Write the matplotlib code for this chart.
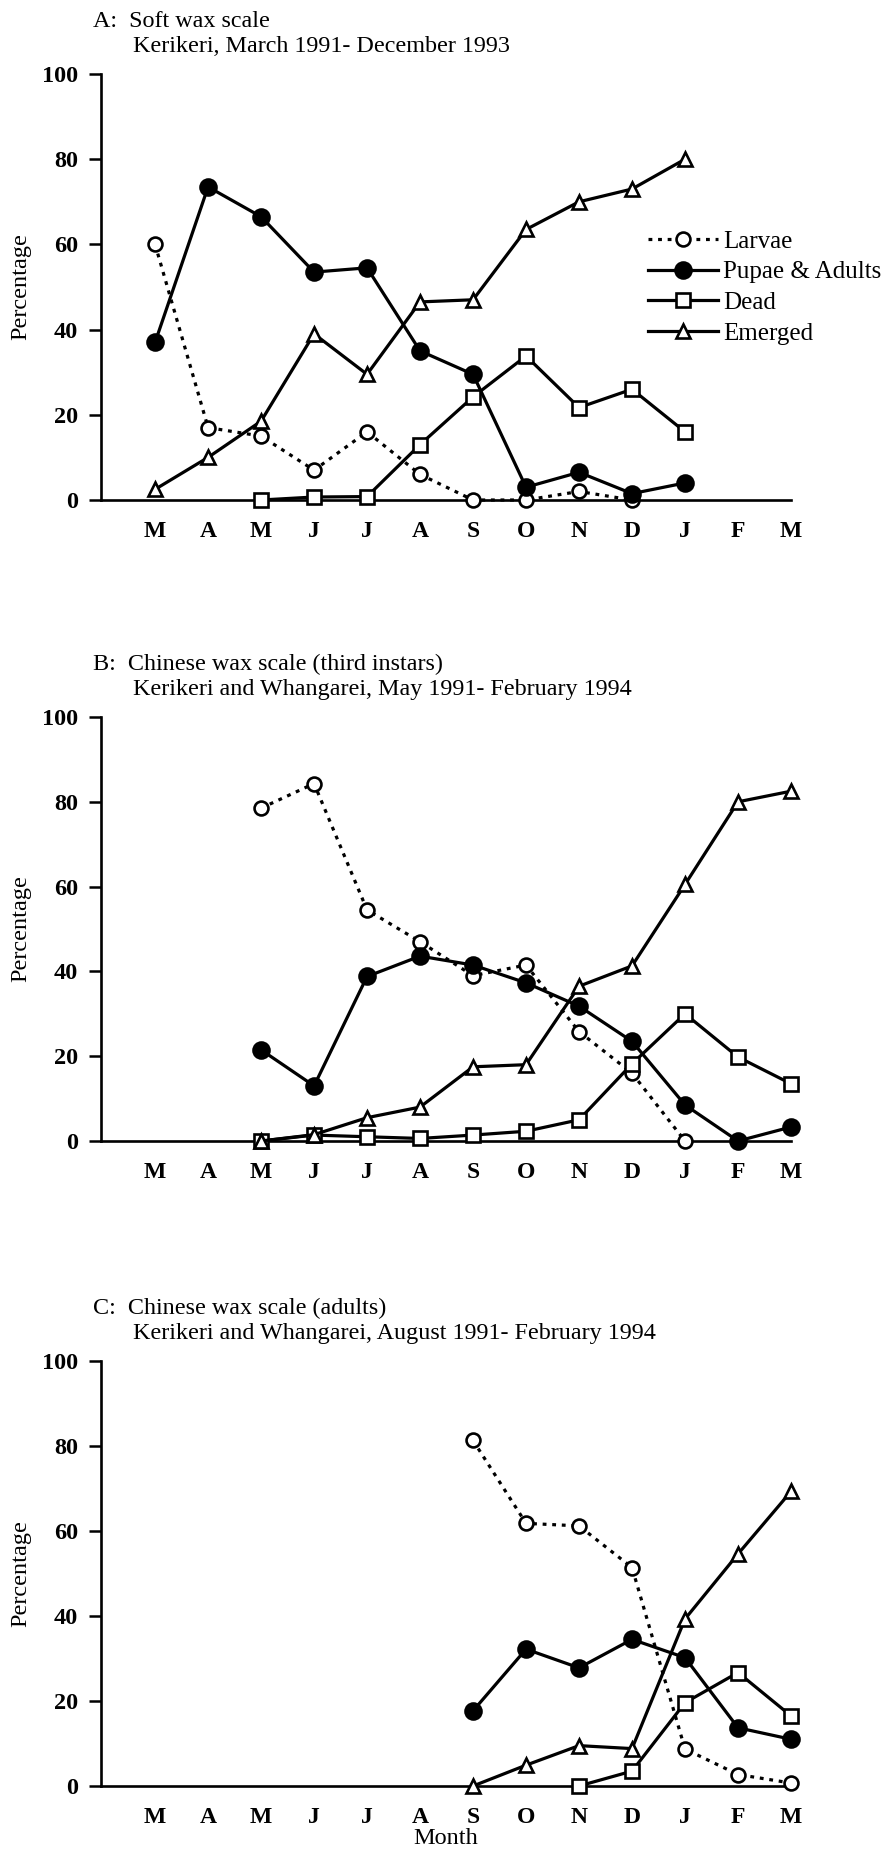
import numpy as np
import matplotlib
matplotlib.use("Agg")
import matplotlib.pyplot as plt

plt.rcParams['font.family'] = ['Liberation Serif', 'DejaVu Serif']

nan = np.nan

months = ['M', 'A', 'M', 'J', 'J', 'A', 'S', 'O', 'N', 'D', 'J', 'F', 'M']
y_ticks = [0, 20, 40, 60, 80, 100]

# A: soft wax scale
larvae_a = [60, 17, 15, 7, 16, 6, 0, 0, 2, 0, nan, nan, nan]
pupae_a = [37, 73.5, 66.5, 53.5, 54.5, 35, 29.5, 3, 6.5, 1.5, 4, nan, nan]
dead_a = [nan, nan, 0, 0.7, 0.8, 13, 24.2, 33.8, 21.7, 26, 16, nan, nan]
emerged_a = [2.5, 10, 18.5, 39, 29.5, 46.5, 47, 63.5, 70, 73, 80, nan, nan]

# B: Chinese wax scale, third instars
larvae_b = [nan, nan, 78.5, 84.3, 54.5, 47, 39, 41.5, 25.8, 16, 0, nan, nan]
pupae_b = [nan, nan, 21.5, 13, 38.8, 43.6, 41.5, 37.3, 31.8, 23.5, 8.5, 0, 3.3]
dead_b = [nan, nan, 0, 1.4, 1, 0.6, 1.4, 2.3, 5, 18.2, 30, 19.8, 13.5]
emerged_b = [nan, nan, 0, 1.5, 5.5, 8, 17.5, 18, 36.5, 41.3, 60.5, 80, 82.5]

# C: Chinese wax scale, adults
larvae_c = [nan, nan, nan, nan, nan, nan, 81.3, 61.8, 61.2, 51.4, 8.7, 2.7, 0.7]
pupae_c = [nan, nan, nan, nan, nan, nan, 17.7, 32.2, 27.8, 34.5, 30.2, 13.7, 11]
dead_c = [nan, nan, nan, nan, nan, nan, nan, nan, 0, 3.5, 19.6, 26.7, 16.5]
emerged_c = [nan, nan, nan, nan, nan, nan, 0, 4.9, 9.5, 8.8, 39.3, 54.6, 69.3]

titles = [
    ("A:  Soft wax scale", "Kerikeri, March 1991- December 1993"),
    ("B:  Chinese wax scale (third instars)", "Kerikeri and Whangarei, May 1991- February 1994"),
    ("C:  Chinese wax scale (adults)", "Kerikeri and Whangarei, August 1991- February 1994"),
]
series_names = ['Larvae', 'Pupae & Adults', 'Dead', 'Emerged']
panels = [
    (larvae_a, pupae_a, dead_a, emerged_a),
    (larvae_b, pupae_b, dead_b, emerged_b),
    (larvae_c, pupae_c, dead_c, emerged_c),
]

W, H = 896, 1852
fig = plt.figure(figsize=(W / 100, H / 100), dpi=100)

# axes boxes in pixels: (top, bottom)
boxes = [(74, 500), (717, 1141), (1361, 1786)]
left_px, right_px = 100.5, 791

styles = [
    dict(ls=(0, (1.2, 1.8)), marker='o', mfc='white', ms=10),
    dict(ls='-', marker='o', mfc='black', ms=11.5),
    dict(ls='-', marker='s', mfc='white', ms=10),
    dict(ls='-', marker='^', mfc='white', ms=10.5),
]

x = np.arange(len(months))
axes = []
for (top, bot), data, (t1, t2) in zip(boxes, panels, titles):
    ax = fig.add_axes([left_px / W, 1 - bot / H, (right_px - left_px) / W, (bot - top) / H])
    lines = []
    for vals, st in zip(data, styles):
        ln, = ax.plot(x, vals, color='black', lw=2.3, mec='black', mew=1.9,
                      clip_on=False, zorder=3, **st)
        lines.append(ln)
    ax.set_xlim(-1.03, 12)
    ax.set_ylim(0, 100)
    ax.set_xticks(x)
    ax.set_xticklabels(months, fontsize=17, fontweight='bold')
    ax.set_yticks(y_ticks)
    ax.set_yticklabels([str(v) for v in y_ticks], fontsize=17.5, fontweight='bold')
    ax.tick_params(axis='x', length=0, pad=15)
    ax.tick_params(axis='y', length=9, width=1.8, pad=7, direction='out')
    for s in ['top', 'right']:
        ax.spines[s].set_visible(False)
    for s in ['left', 'bottom']:
        ax.spines[s].set_linewidth(1.9)

    fig.text(93 / W, 1 - (top - 47) / H, t1, fontsize=17.4, va='baseline', ha='left')
    fig.text(133 / W, 1 - (top - 22) / H, t2, fontsize=17.4, va='baseline', ha='left')
    fig.text(21 / W, 1 - (top + bot) / 2 / H, 'Percentage', fontsize=17.5,
             rotation=90, ha='center', va='center')
    axes.append((ax, lines))

# legend on the first panel
ax_a, lines_a = axes[0]
ax_a.legend(lines_a, series_names, loc='upper left',
            bbox_to_anchor=(648 / W, 1 - 230 / H), bbox_transform=fig.transFigure,
            frameon=False, fontsize=18, handlelength=2.8, handletextpad=0.2,
            labelspacing=0.33, borderpad=0, borderaxespad=0, numpoints=1)

fig.text(446 / W, 1 - 1839 / H, 'Month', fontsize=17.5, ha='center', va='center')

fig.savefig('out.png', dpi=100)
